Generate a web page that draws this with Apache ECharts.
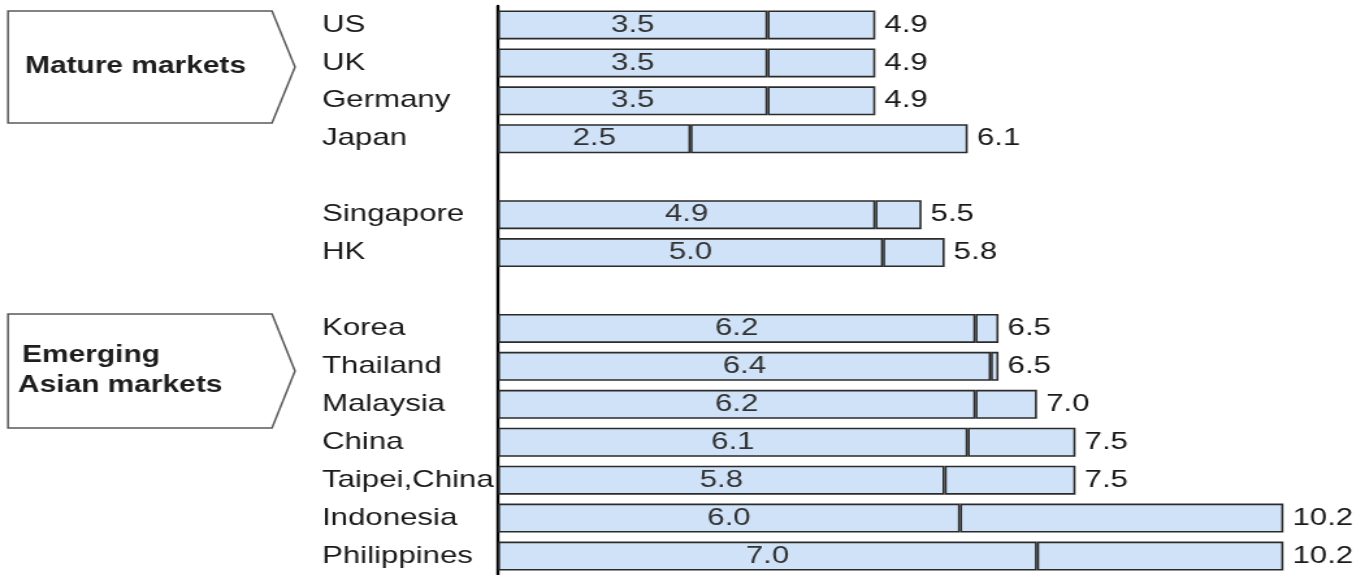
<!DOCTYPE html>
<html>
<head>
<meta charset="utf-8">
<script src="https://cdn.jsdelivr.net/npm/echarts@6/dist/echarts.min.js"></script>
<style>
  html, body { margin: 0; padding: 0; background: #fff; overflow: hidden; }
  body { width: 1361px; height: 575px; }
  /* the chart is laid out narrower and widened horizontally, giving the broad lettering */
  #chart { width: 1047px; height: 575px; transform: scaleX(1.3); transform-origin: 0 0; }
</style>
</head>
<body>
<div id="chart"></div>
<script>
// Market rows, top to bottom; blank rows separate the groups
const markets = ['US', 'UK', 'Germany', 'Japan', ' ', 'Singapore', 'HK', '  ',
  'Korea', 'Thailand', 'Malaysia', 'China', 'Taipei,China', 'Indonesia', 'Philippines'];
// Value at the divider inside each bar
const innerValues = [3.5, 3.5, 3.5, 2.5, null, 4.9, 5.0, null, 6.2, 6.4, 6.2, 6.1, 5.8, 6.0, 7.0];
// Value at the end of each bar
const totalValues = [4.9, 4.9, 4.9, 6.1, null, 5.5, 5.8, null, 6.5, 6.5, 7.0, 7.5, 7.5, 10.2, 10.2];
// Group captions drawn in the arrow boxes
const groupTitles = [['Mature markets'], ['Emerging', 'Asian markets']];

const SX = 1.3;              // horizontal stretch applied by CSS
const X = v => v / SX;       // page x -> chart x
const FONT = "'Liberation Sans', Arial, sans-serif";

const remainder = totalValues.map((t, i) =>
  t == null ? null : +(t - innerValues[i]).toFixed(2));

const barStyle = { color: '#cfe2f7', borderColor: '#2b2b2b', borderWidth: 1.6 };

function arrowBox(left, top, right, tip, bottom) {
  const mid = (top + bottom) / 2;
  return {
    type: 'polygon',
    shape: { points: [[X(left), top], [X(right), top], [X(tip), mid], [X(right), bottom], [X(left), bottom]] },
    style: { fill: '#fff', stroke: '#5a5a5a', lineWidth: 1.5 }
  };
}
function caption(text, x, y) {
  return {
    type: 'text', x: X(x), y: y,
    style: { text: text, font: 'bold 23px ' + FONT, fill: '#1e1e1e',
             textAlign: 'left', textVerticalAlign: 'middle', verticalAlign: 'middle' }
  };
}

const chart = echarts.init(document.getElementById('chart'));
chart.setOption({
  animation: false,
  backgroundColor: '#fff',
  grid: { left: X(498), top: 6, width: 11 * X(77), height: 571, containLabel: false },
  xAxis: {
    type: 'value', min: 0, max: 11,
    axisLine: { show: false }, axisTick: { show: false },
    axisLabel: { show: false }, splitLine: { show: false }
  },
  yAxis: {
    type: 'category', data: markets, inverse: true,
    axisLine: { show: true, lineStyle: { color: '#000', width: 2.4 } },
    axisTick: { show: false },
    axisLabel: { align: 'left', margin: X(498 - 322), color: '#1a1a1a',
                 fontSize: 24, fontFamily: FONT }
  },
  series: [
    {
      type: 'bar', stack: 'bar', data: innerValues, barWidth: 29,
      itemStyle: barStyle,
      label: { show: true, position: 'inside', color: '#333', fontSize: 24, fontFamily: FONT,
               formatter: p => p.value == null ? '' : p.value.toFixed(1) }
    },
    {
      type: 'bar', stack: 'bar', data: remainder, barWidth: 29,
      itemStyle: barStyle,
      label: { show: true, position: 'right', distance: 7, color: '#1a1a1a', fontSize: 24, fontFamily: FONT,
               formatter: p => totalValues[p.dataIndex] == null ? '' : totalValues[p.dataIndex].toFixed(1) }
    }
  ],
  graphic: [
    arrowBox(8, 11, 272, 295, 123),
    caption(groupTitles[0][0], 25, 67),
    arrowBox(8, 314, 272, 295, 428),
    caption(groupTitles[1][0], 22, 356),
    caption(groupTitles[1][1], 18, 386)
  ]
});
</script>
</body>
</html>
